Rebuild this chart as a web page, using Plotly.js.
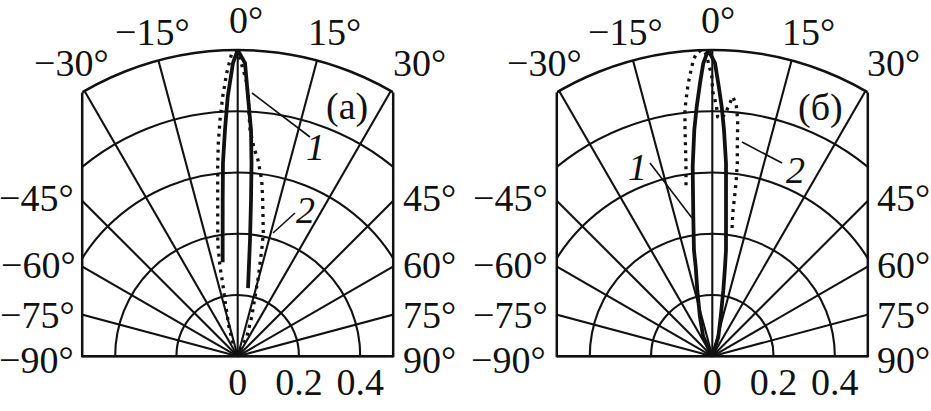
<!DOCTYPE html>
<html>
<head>
<meta charset="utf-8">
<script src="https://cdn.plot.ly/plotly-3.0.1.min.js"></script>
<style>
html,body{margin:0;padding:0;overflow:hidden;background:#fff;width:931px;height:411px;}
#plot{position:absolute;left:-100px;top:0;width:1130px;height:411px;}
</style>
</head>
<body>
<div id="plot"></div>
<script>
// ---- data (theta in degrees, 0 = straight up, positive = clockwise; r relative) ----
const angleTicks = [-90, -75, -60, -45, -30, -15, 0, 15, 30, 45, 60, 75, 90];
const radialTicks = [0, 0.2, 0.4, 0.6, 0.8];
const radialTickText = ['0', '0.2', '0.4', '', ''];
const panelLabels = ['(а)', '(б)'];
const curveLabels = ['1', '2'];

// panel (a), curve 1 (solid)
const thetaA1 = [-9.07, -6.79, -5.49, -4.36, -3.22, -2.21, -0.92, 0, 1.43, 2.28, 3.37, 4.09, 4.87, 6.05, 8.6];
const rA1     = [0.311, 0.415, 0.512, 0.633, 0.740, 0.847, 0.958, 1.0, 0.958, 0.847, 0.740, 0.632, 0.512, 0.381, 0.225];
// panel (a), curve 2 (dotted)
const thetaA2 = [-19.9, -16.7, -12.8, -11.6, -11.2, -10.0, -7.3, -6.04, -5.2, -4.29, -3.31, -2.23, -1.14, 0, 1.12, 1.89, 2.34, 2.66, 3.12, 4.48, 5.91, 7.77, 9.1, 11.76, 12.76, 14.56, 16.26, 19.6, 25, 0];
const rA2     = [0.045, 0.099, 0.188, 0.244, 0.297, 0.375, 0.514, 0.621, 0.699, 0.773, 0.849, 0.925, 0.989, 0.995, 0.935, 0.893, 0.848, 0.795, 0.740, 0.682, 0.644, 0.580, 0.516, 0.41, 0.355, 0.268, 0.202, 0.136, 0.070, 0];
// panel (б), curve 1 (solid)
const thetaB1 = [0, -25, -17.4, -12.8, -10.5, -9.8, -7.77, -5.91, -4.55, -3.58, -2.58, -1.76, -0.75, 0.53, 1.26, 2.16, 2.96, 4.07, 5.02, 7.36, 8.09, 9.46, 12.06, 17.3, 0];
const rB1     = [0, 0.070, 0.135, 0.221, 0.297, 0.352, 0.459, 0.622, 0.741, 0.816, 0.892, 0.957, 1.0, 0.957, 0.891, 0.815, 0.740, 0.631, 0.512, 0.349, 0.295, 0.219, 0.131, 0.066, 0];
// panel (б), curve 2 (dotted)
const thetaB2 = [-8.74, -7.76, -6.79, -6.33, -5.87, -5.03, -4.54, -3.67, -2.94, -2.1, -1.37, -0.96, -0.59, -0.12, 0.09, 0.6, 1.02, 1.29, 2.26, 3.0, 3.67, 4.5, 5.36, 6.14, 6.81, 7.39, 7.81, 8.14, 8.82];
const rB2     = [0.565, 0.637, 0.755, 0.809, 0.841, 0.895, 0.921, 0.969, 0.992, 1.0, 0.995, 0.973, 0.945, 0.918, 0.864, 0.837, 0.81, 0.782, 0.777, 0.794, 0.816, 0.85, 0.829, 0.776, 0.689, 0.635, 0.570, 0.471, 0.42];

// ---- geometry helpers (page pixels -> paper fractions) ----
const SHIFT = 100, W = 1130, H = 411;
const px = x => (x + SHIFT) / W;
const py = y => (H - y) / H;
const panels = [
  {cx: 237.7, cy: 356.3, R: 306.3},
  {cx: 712.3, cy: 356.3, R: 306.3}
];
const HW = 155.5;
const FONT = 'Liberation Serif, Times New Roman, serif';

function polarLayout(p) {
  return {
    domain: {x: [px(p.cx - p.R), px(p.cx + p.R)], y: [py(p.cy), py(p.cy - p.R)]},
    sector: [0, 180],
    bgcolor: 'rgba(0,0,0,0)',
    angularaxis: {
      rotation: 90, direction: 'clockwise',
      tickmode: 'linear', tick0: 0, dtick: 15,
      showticklabels: false, ticks: '',
      showline: true, linecolor: '#111', linewidth: 2.5,
      showgrid: true, gridcolor: '#111', gridwidth: 2.1
    },
    radialaxis: {
      range: [0, 1], angle: 0,
      tickmode: 'array', tickvals: radialTicks, ticktext: radialTickText,
      ticks: '',
      showline: false, showgrid: true, gridcolor: '#111', gridwidth: 2.1,
      tickfont: {family: FONT, size: 38, color: '#111'}, tickangle: 0
    }
  };
}

const solid = {color: '#111', width: 3.8};
const dotted = {color: '#111', width: 3.3, dash: '3px,5px'};
const traces = [
  {type: 'scatterpolar', subplot: 'polar', theta: thetaA1, r: rA1, mode: 'lines', line: solid},
  {type: 'scatterpolar', subplot: 'polar', theta: thetaA2, r: rA2, mode: 'lines', line: dotted},
  {type: 'scatterpolar', subplot: 'polar2', theta: thetaB1, r: rB1, mode: 'lines', line: solid},
  {type: 'scatterpolar', subplot: 'polar2', theta: thetaB2, r: rB2, mode: 'lines', line: dotted}
];

// ---- decorations ----
const shapes = [];
const rect = (x0, x1, y0, y1) => ({type: 'rect', xref: 'paper', yref: 'paper', layer: 'above',
  x0: px(x0), x1: px(x1), y0: py(y1), y1: py(y0), fillcolor: '#fff', line: {width: 0}});
const seg = (x0, y0, x1, y1, w) => ({type: 'line', xref: 'paper', yref: 'paper', layer: 'above',
  x0: px(x0), y0: py(y0), x1: px(x1), y1: py(y1), line: {color: '#111', width: w}});
const P0 = panels[0], P1 = panels[1];
shapes.push(rect(-SHIFT, P0.cx - HW, -5, P0.cy + 2.5));
shapes.push(rect(P0.cx + HW, P1.cx - HW, -5, P0.cy + 2.5));
shapes.push(rect(P1.cx + HW, W - SHIFT, -5, P1.cy + 2.5));
panels.forEach(p => {
  const top = p.cy - Math.sqrt(p.R * p.R - HW * HW);
  shapes.push(seg(p.cx - HW, top, p.cx - HW, p.cy + 1, 2.5));
  shapes.push(seg(p.cx + HW, top, p.cx + HW, p.cy + 1, 2.5));
});
// leader lines
shapes.push(seg(252, 93, 310, 137, 1.6));
shapes.push(seg(273, 233, 295, 213, 1.6));
shapes.push(seg(650, 163, 692, 218, 1.6));
shapes.push(seg(742, 142, 782, 163, 1.6));

const angText = v => (v < 0 ? '\u2212' : '') + Math.abs(v) + '°';
const labelPos = [
  {v: -90, a: [36, 360], b: [508, 360]},
  {v: -75, a: [37, 315], b: [510, 315]},
  {v: -60, a: [38, 265], b: [510, 265]},
  {v: -45, a: [36, 198], b: [510, 198]},
  {v: -30, a: [71, 63], b: [544, 63]},
  {v: -15, a: [152, 32], b: [625, 32]},
  {v: 0, a: [246, 20], b: [718, 20]},
  {v: 15, a: [334, 32], b: [808, 32]},
  {v: 30, a: [419, 63], b: [893, 63]},
  {v: 45, a: [429, 198], b: [903, 198]},
  {v: 60, a: [429, 265], b: [903, 265]},
  {v: 75, a: [429, 315], b: [903, 315]},
  {v: 90, a: [429, 360], b: [903, 360]}
];
const ann = (t, x, y) => ({text: t, xref: 'paper', yref: 'paper', x: px(x), y: py(y),
  xanchor: 'center', yanchor: 'middle', showarrow: false,
  font: {family: FONT, size: 38, color: '#111'}});
const annotations = [];
angleTicks.forEach(v => {
  const lp = labelPos.find(o => o.v === v);
  annotations.push(ann(angText(v), lp.a[0], lp.a[1]));
  annotations.push(ann(angText(v), lp.b[0], lp.b[1]));
});
annotations.push(ann(panelLabels[0], 347, 106));
annotations.push(ann(panelLabels[1], 820, 107));
annotations.push(ann('<i>' + curveLabels[0] + '</i>', 315, 147));
annotations.push(ann('<i>' + curveLabels[1] + '</i>', 305, 210));
annotations.push(ann('<i>' + curveLabels[0] + '</i>', 638, 167));
annotations.push(ann('<i>' + curveLabels[1] + '</i>', 795, 170));

const layout = {
  width: W, height: H,
  margin: {l: 0, r: 0, t: 0, b: 0, pad: 0},
  paper_bgcolor: '#fff',
  showlegend: false,
  font: {family: FONT, color: '#111'},
  polar: polarLayout(panels[0]),
  polar2: polarLayout(panels[1]),
  shapes: shapes,
  annotations: annotations
};

Plotly.newPlot('plot', traces, layout, {staticPlot: true, displayModeBar: false});
</script>
</body>
</html>
